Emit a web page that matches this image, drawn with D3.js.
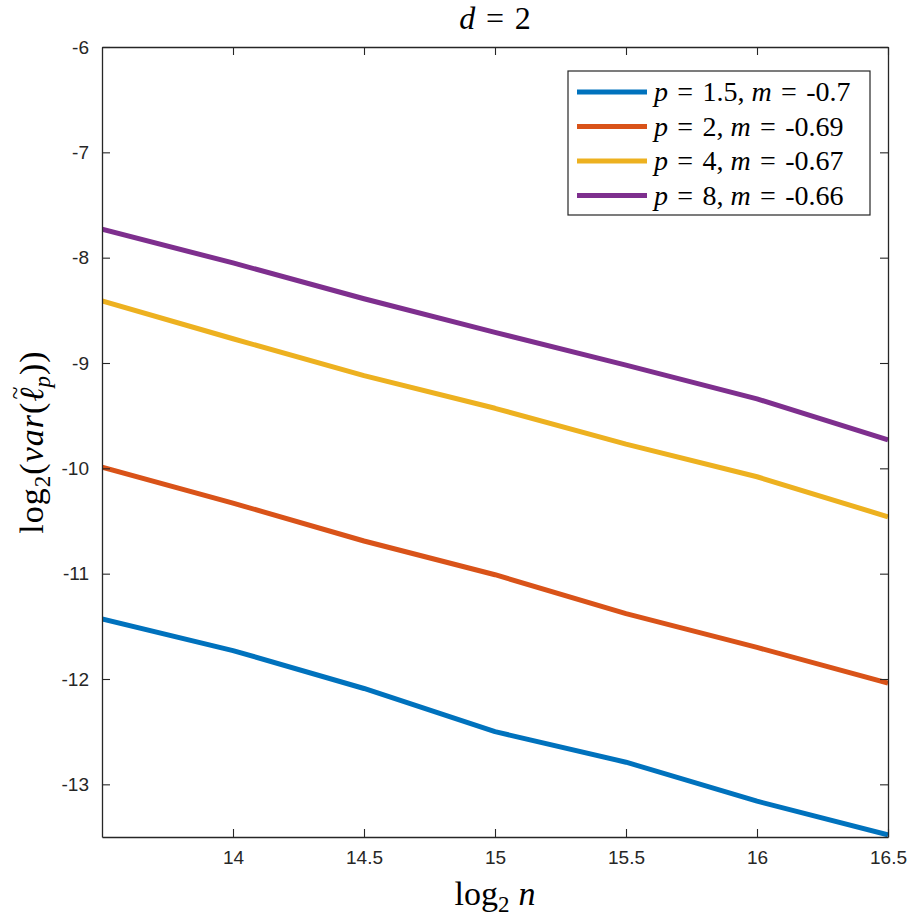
<!DOCTYPE html>
<html>
<head>
<meta charset="utf-8">
<script src="https://cdn.jsdelivr.net/npm/d3@7"></script>
<style>
  body { margin: 0; background: #fff; }
  svg { display: block; }
  .tick text { font-family: "Liberation Sans", Arial, sans-serif; font-size: 19px; fill: #262626; }
  .math { font-family: "Liberation Serif", "DejaVu Serif", serif; fill: #000; }
</style>
</head>
<body>
<div id="chart"></div>
<script>
const xs = [13.5, 14, 14.5, 15, 15.5, 16, 16.5]
const p15 = [-11.43, -11.73, -12.09, -12.50, -12.79, -13.16, -13.48]
const p2 = [-9.99, -10.33, -10.69, -11.01, -11.38, -11.70, -12.04]
const p4 = [-8.41, -8.77, -9.12, -9.43, -9.77, -10.08, -10.46]
const p8 = [-7.73, -8.05, -8.39, -8.71, -9.02, -9.34, -9.73]
const labels = [
  {p: '1.5', m: '-0.7'},
  {p: '2', m: '-0.69'},
  {p: '4', m: '-0.67'},
  {p: '8', m: '-0.66'}
]
const colors = ['#0072BD', '#D95319', '#EDB120', '#7E2F8E']
const xTicks = [14, 14.5, 15, 15.5, 16, 16.5]
const yTicks = [-13, -12, -11, -10, -9, -8, -7, -6]

const series = [p15, p2, p4, p8].map(vals => vals.map((v, i) => ({x: xs[i], y: v})))

const W = 913, H = 920
const margin = {top: 47, right: 25, bottom: 83, left: 102}
const iw = W - margin.left - margin.right
const ih = H - margin.top - margin.bottom

const x = d3.scaleLinear().domain([13.5, 16.5]).range([0, iw])
const y = d3.scaleLinear().domain([-13.5, -6]).range([ih, 0])

const svg = d3.select('#chart').append('svg').attr('width', W).attr('height', H)
const g = svg.append('g').attr('transform', `translate(${margin.left},${margin.top})`)

g.append('clipPath').attr('id', 'clip')
  .append('rect').attr('width', iw).attr('height', ih)

const line = d3.line().x(d => x(d.x)).y(d => y(d.y))

g.append('g').attr('clip-path', 'url(#clip)')
  .selectAll('path').data(series).enter().append('path')
  .attr('d', line)
  .style('fill', 'none')
  .style('stroke', (d, i) => colors[i])
  .style('stroke-width', 5)
  .style('stroke-linejoin', 'round')

// axes: ticks inside, box on all sides
const fmt = d => String(d)
const axBottom = g.append('g').attr('transform', `translate(0,${ih})`)
  .call(d3.axisBottom(x).tickValues(xTicks).tickFormat(fmt).tickSizeInner(-8).tickSizeOuter(0).tickPadding(14))
const axTop = g.append('g')
  .call(d3.axisTop(x).tickValues(xTicks).tickFormat('').tickSizeInner(-8).tickSizeOuter(0))
const axLeft = g.append('g')
  .call(d3.axisLeft(y).tickValues(yTicks).tickFormat(fmt).tickSizeInner(-8).tickSizeOuter(0).tickPadding(13))
const axRight = g.append('g').attr('transform', `translate(${iw},0)`)
  .call(d3.axisRight(y).tickValues(yTicks).tickFormat('').tickSizeInner(-8).tickSizeOuter(0))

;[axBottom, axTop, axLeft, axRight].forEach(a => {
  a.select('.domain').attr('stroke', '#262626').attr('stroke-width', 1.3)
  a.selectAll('.tick line').attr('stroke', '#262626').attr('stroke-width', 1.1)
})

const sp = '\u2004'

// title
const title = svg.append('text').attr('class', 'math')
  .attr('x', margin.left + iw / 2).attr('y', 29)
  .attr('text-anchor', 'middle').style('font-size', '32px')
title.append('tspan').style('font-style', 'italic').text('d')
title.append('tspan').text(`${sp}=${sp}2`)

// x label
const xl = svg.append('text').attr('class', 'math')
  .attr('x', margin.left + iw / 2).attr('y', 905)
  .attr('text-anchor', 'middle').style('font-size', '34px')
xl.append('tspan').text('log')
xl.append('tspan').attr('dy', 7).style('font-size', '23px').text('2')
xl.append('tspan').attr('dy', -7).attr('dx', 9).style('font-style', 'italic').text('n')

// y label
const yl = svg.append('text').attr('class', 'math')
  .attr('transform', `translate(43,${margin.top + ih / 2}) rotate(-90)`)
  .attr('text-anchor', 'middle').style('font-size', '34px')
  .style('letter-spacing', '1px')
yl.append('tspan').text('log')
yl.append('tspan').attr('dy', 7).style('font-size', '23px').text('2')
yl.append('tspan').attr('dy', -7).text('(')
yl.append('tspan').style('font-style', 'italic').text('var')
yl.append('tspan').text('(')
yl.append('tspan').style('font-style', 'italic').text('\u2113')
yl.append('tspan').attr('dx', -13).attr('dy', -20).style('font-size', '24px').text('~')
yl.append('tspan').attr('dx', -2).attr('dy', 27).style('font-size', '23px').style('font-style', 'italic').text('p')
yl.append('tspan').attr('dy', -7).text('))')

// legend
const lg = svg.append('g').attr('transform', 'translate(568,71)')
lg.append('rect').attr('width', 302).attr('height', 144)
  .style('fill', '#fff').style('stroke', '#262626').style('stroke-width', 1.2)
const rows = lg.selectAll('g.row').data(labels).enter().append('g')
  .attr('class', 'row')
  .attr('transform', (d, i) => `translate(0,${21 + i * 34.5})`)
rows.append('line').attr('x1', 9).attr('x2', 79).attr('y1', 0).attr('y2', 0)
  .style('stroke', (d, i) => colors[i]).style('stroke-width', 5)
const lt = rows.append('text').attr('class', 'math').attr('x', 86).attr('y', 9)
  .style('font-size', '28px')
lt.append('tspan').style('font-style', 'italic').text('p')
lt.append('tspan').text(d => `${sp}=${sp}${d.p}, `)
lt.append('tspan').style('font-style', 'italic').text('m')
lt.append('tspan').text(d => `${sp}=${sp}${d.m}`)
</script>
</body>
</html>
